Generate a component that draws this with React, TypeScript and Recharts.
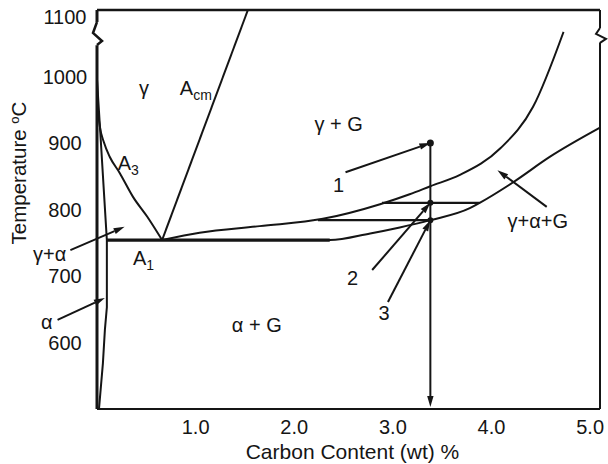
import React from 'react';
import { ComposedChart, Line, XAxis, YAxis, ReferenceLine, ReferenceDot } from 'recharts';

const FONT = '"Liberation Sans", Arial, Helvetica, sans-serif';
const INK = '#151515';

// axis ticks
const carbonTicks = [1, 2, 3, 4, 5];
const tempTicks = [600, 700, 800, 900, 1000, 1100];

// phase boundaries (c = wt% carbon, t = temperature °C)
const a3Boundary = [
  { c: 0, t: 995 }, { c: 0.01, t: 950 }, { c: 0.03, t: 924 }, { c: 0.07, t: 901 },
  { c: 0.13, t: 879 }, { c: 0.23, t: 855 }, { c: 0.365, t: 819 }, { c: 0.51, t: 789 }, { c: 0.66, t: 754 },
];
const alphaBoundary = [
  { c: 0, t: 995 }, { c: 0.03, t: 924 }, { c: 0.1, t: 754 }, { c: 0.1, t: 653 },
  { c: 0.08, t: 619 }, { c: 0.06, t: 569 }, { c: 0.02, t: 500 },
];
const acmBoundary = [{ c: 0.66, t: 754 }, { c: 1.53, t: 1100 }];
const upperThreePhase = [
  { c: 0.66, t: 754 }, { c: 1.04, t: 765 }, { c: 1.65, t: 775 }, { c: 2.29, t: 786 },
  { c: 2.87, t: 808 }, { c: 3.17, t: 823 }, { c: 3.38, t: 835 }, { c: 3.68, t: 852 },
  { c: 4.09, t: 892 }, { c: 4.42, t: 954 }, { c: 4.73, t: 1067 },
];
const lowerThreePhase = [
  { c: 0.1, t: 754 }, { c: 2.36, t: 754 }, { c: 2.77, t: 764 }, { c: 3.07, t: 773 },
  { c: 3.38, t: 784 }, { c: 3.78, t: 802 }, { c: 3.88, t: 810 }, { c: 4.22, t: 841 },
  { c: 4.59, t: 879 }, { c: 5.1, t: 923 },
];
const a1Isotherm = [{ c: 0.1, t: 754 }, { c: 2.36, t: 754 }];
const tieLineLow = [{ c: 2.24, t: 784 }, { c: 3.38, t: 784 }];
const tieLineHigh = [{ c: 2.89, t: 810 }, { c: 3.88, t: 810 }];

// annotation arrows: [tail, head]
const arrows = [
  [{ c: 2.52, t: 856 }, { c: 3.38, t: 900 }],
  [{ c: 3.38, t: 900 }, { c: 3.38, t: 503 }],
  [{ c: 2.79, t: 709 }, { c: 3.38, t: 810 }],
  [{ c: 2.95, t: 661 }, { c: 3.38, t: 784 }],
  [{ c: 4.56, t: 804 }, { c: 4.06, t: 859 }],
  [{ c: -0.27, t: 739 }, { c: 0.28, t: 774 }],
  [{ c: -0.4, t: 634 }, { c: 0.08, t: 667 }],
];
const markerPoints = [
  { c: 3.38, t: 900, r: 3.5 },
  { c: 3.38, t: 810, r: 3 },
  { c: 3.38, t: 784, r: 3 },
];

// region / line labels
const regionLabels = [
  { c: 0.477, t: 972, main: 'γ', anchor: 'middle' },
  { c: 0.84, t: 972, main: 'A', sub: 'cm', anchor: 'start' },
  { c: 0.21, t: 859, main: 'A', sub: '3', anchor: 'start' },
  { c: 0.365, t: 717, main: 'A', sub: '1', anchor: 'start' },
  { c: 2.45, t: 918, main: 'γ + G', anchor: 'middle' },
  { c: 2.45, t: 826, main: '1', anchor: 'middle' },
  { c: 2.59, t: 686, main: '2', anchor: 'middle' },
  { c: 2.91, t: 634, main: '3', anchor: 'middle' },
  { c: 1.62, t: 616, main: 'α + G', anchor: 'middle' },
  { c: 4.47, t: 772, main: 'γ+α+G', anchor: 'middle' },
  { c: -0.48, t: 723, main: 'γ+α', anchor: 'middle' },
  { c: -0.51, t: 620, main: 'α', anchor: 'middle' },
];

const makeLabel = (lab: any) => (p: any) => (
  <text x={p.cx} y={p.cy} textAnchor={lab.anchor} fontSize={20} fontFamily={FONT} fill={INK}>
    {lab.main}
    {lab.sub ? <tspan fontSize={14} dy={5}>{lab.sub}</tspan> : null}
  </text>
);

const ArrowLine = (p: any) => {
  const { x1, y1, x2, y2 } = p;
  const a = Math.atan2(y2 - y1, x2 - x1);
  const L = 11;
  const W = 3.2;
  const bx = x2 - L * Math.cos(a);
  const by = y2 - L * Math.sin(a);
  const nx = -Math.sin(a) * W;
  const ny = Math.cos(a) * W;
  return (
    <g>
      <line x1={x1} y1={y1} x2={bx} y2={by} stroke={INK} strokeWidth={2} />
      <polygon points={`${x2},${y2} ${bx + nx},${by + ny} ${bx - nx},${by - ny}`} fill={INK} />
    </g>
  );
};

const BreakLeft = (p: any) => (
  <path d={`M${p.cx},${p.cy} l-4,11 l9,8 l-5,4`} fill="none" stroke={INK} strokeWidth={2.5} />
);
const BreakRight = (p: any) => (
  <path d={`M${p.cx},${p.cy} l-4,6 l10,5 l-6,4`} fill="none" stroke={INK} strokeWidth={2} />
);

const YTick = (props: any) => {
  const { x, y, payload } = props;
  const v = payload.value;
  const dy = v === 1100 ? 7 : 0;
  return (
    <text x={x - 24} y={y + dy} textAnchor="middle" dominantBaseline="central" fontSize={20} fill={INK} fontFamily={FONT}>
      {v}
    </text>
  );
};

const curve = (data: any[], key: string, width: number, type: any = 'monotone') => (
  <Line
    key={key}
    data={data}
    dataKey="t"
    type={type}
    stroke={INK}
    strokeWidth={width}
    dot={false}
    activeDot={false}
    isAnimationActive={false}
  />
);

export default function App() {
  return (
    <div style={{ position: 'absolute', left: 0, top: 0 }}>
      <ComposedChart width={608} height={464} margin={{ top: 10, right: 8, bottom: 15, left: 0 }}>
        <XAxis
          type="number"
          dataKey="c"
          domain={[0, 5.1]}
          ticks={carbonTicks}
          tickFormatter={(v: number) => v.toFixed(1)}
          allowDataOverflow
          height={40}
          tickLine={false}
          tickMargin={5}
          axisLine={{ stroke: INK, strokeWidth: 2 }}
          tick={{ fontSize: 20, fill: INK, fontFamily: FONT }}
          label={{
            content: (p: any) => (
              <text
                x={p.viewBox.x + p.viewBox.width / 2 + 4}
                y={p.viewBox.y + p.viewBox.height + 10}
                textAnchor="middle"
                fontSize={21}
                fontFamily={FONT}
                fill={INK}
              >
                Carbon Content (wt) %
              </text>
            ),
          }}
        />
        <YAxis
          type="number"
          domain={[500, 1100]}
          ticks={tempTicks}
          allowDataOverflow
          width={97}
          axisLine={false}
          tickLine={false}
          tick={YTick}
          label={{
            content: (p: any) => {
              const x = p.viewBox.x + 26;
              const y = p.viewBox.y + 163;
              return (
                <text x={x} y={y} transform={`rotate(-90, ${x}, ${y})`} textAnchor="middle" fontSize={20.5} fontFamily={FONT} fill={INK}>
                  Temperature <tspan fontSize={13} dy={-7}>o</tspan>
                  <tspan dy={7}>C</tspan>
                </text>
              );
            },
          }}
        />

        {curve(a3Boundary, 'a3', 2)}
        {curve(alphaBoundary, 'alpha', 2, 'linear')}
        {curve(acmBoundary, 'acm', 2, 'linear')}
        {curve(upperThreePhase, 'upper', 2)}
        {curve(lowerThreePhase, 'lower', 2)}
        {curve(a1Isotherm, 'a1', 3.4, 'linear')}
        {curve(tieLineLow, 'tieLow', 2.4, 'linear')}
        {curve(tieLineHigh, 'tieHigh', 2.4, 'linear')}

        {/* frame */}
        <ReferenceLine segment={[{ x: 0, y: 1100 }, { x: 5.1, y: 1100 }]} stroke={INK} strokeWidth={2.5} ifOverflow="visible" />
        <ReferenceLine segment={[{ x: 0, y: 1100 }, { x: 0, y: 1082 }]} stroke={INK} strokeWidth={3} ifOverflow="visible" />
        <ReferenceLine segment={[{ x: 0, y: 1047 }, { x: 0, y: 500 }]} stroke={INK} strokeWidth={3} ifOverflow="visible" />
        <ReferenceLine segment={[{ x: 5.1, y: 1100 }, { x: 5.1, y: 1073 }]} stroke={INK} strokeWidth={2} ifOverflow="visible" />
        <ReferenceLine segment={[{ x: 5.1, y: 1051 }, { x: 5.1, y: 500 }]} stroke={INK} strokeWidth={2} ifOverflow="visible" />
        <ReferenceDot x={0} y={1082} r={0} ifOverflow="visible" shape={BreakLeft} />
        <ReferenceDot x={5.1} y={1073} r={0} ifOverflow="visible" shape={BreakRight} />

        {arrows.map((a, i) => (
          <ReferenceLine
            key={`arr${i}`}
            segment={[{ x: a[0].c, y: a[0].t }, { x: a[1].c, y: a[1].t }]}
            ifOverflow="visible"
            shape={ArrowLine}
          />
        ))}
        {markerPoints.map((m, i) => (
          <ReferenceDot key={`m${i}`} x={m.c} y={m.t} r={m.r} fill={INK} stroke="none" ifOverflow="visible" />
        ))}
        {regionLabels.map((lab, i) => (
          <ReferenceDot key={`l${i}`} x={lab.c} y={lab.t} r={0} ifOverflow="visible" shape={makeLabel(lab)} />
        ))}
      </ComposedChart>
    </div>
  );
}
